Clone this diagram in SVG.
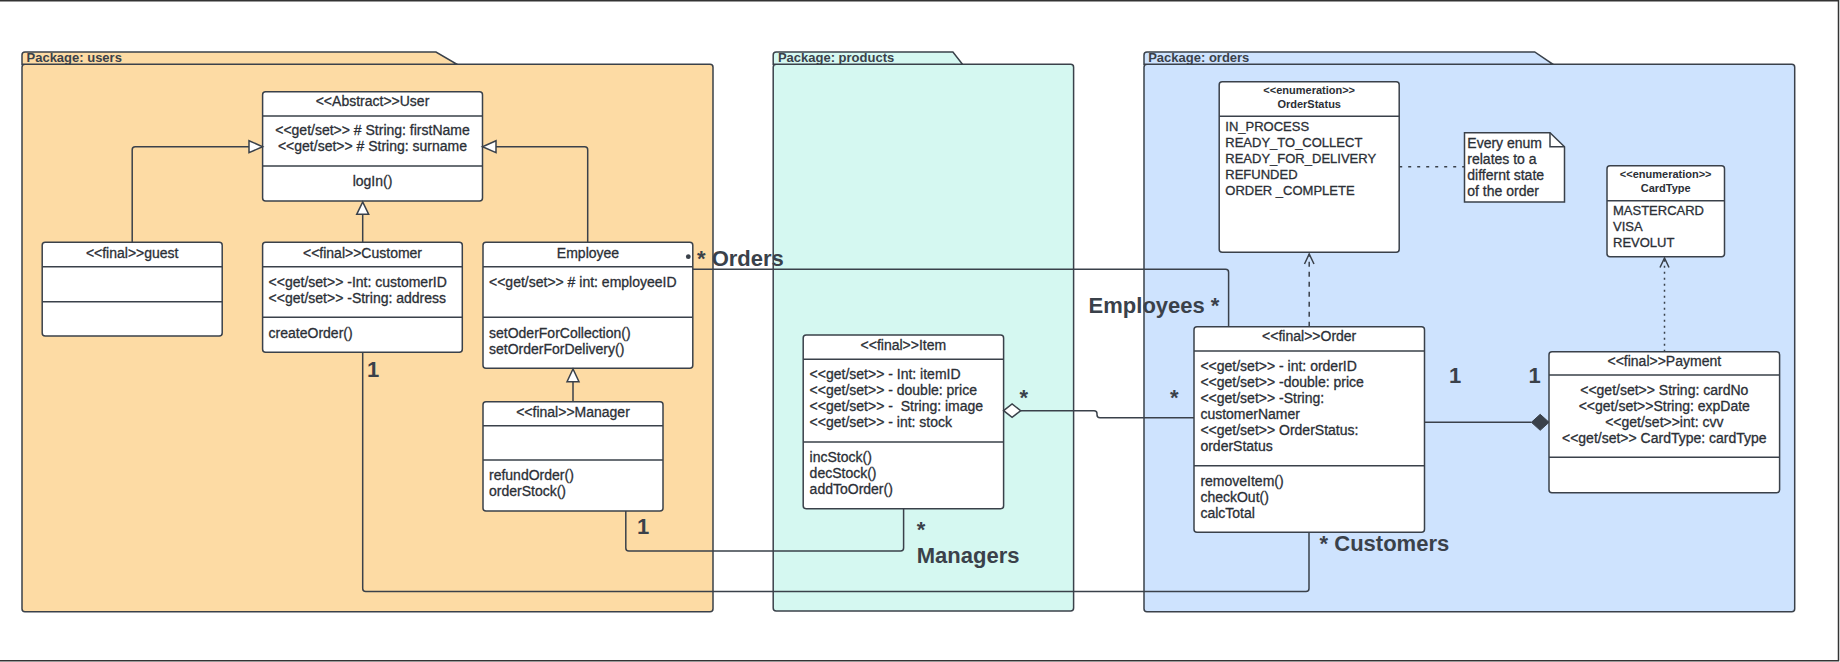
<svg xmlns="http://www.w3.org/2000/svg" width="1840" height="662" viewBox="0 0 1840 662">
<style>
.pk{stroke:#3a414a;stroke-width:1.5}
.bx{fill:#fff;stroke:#3a414a;stroke-width:1.5}
.ln{stroke:#3a414a;stroke-width:1.5;fill:none}
text{font-family:"Liberation Sans",Arial,sans-serif;font-size:14px;fill:#2b2f36;stroke:#2b2f36;stroke-width:0.3}
.c{text-anchor:middle}
.pl{font-size:13px;font-weight:bold;fill:#3a414a;stroke:none}
.big{font-size:22px;font-weight:bold;fill:#3a414a;stroke:none}
.eh{font-size:11px;font-weight:bold;stroke:none}
.ev{font-size:13px}
.tri{fill:#fff;stroke:#3a414a;stroke-width:1.5}
</style>
<rect width="1840" height="662" fill="#fff"/>
<path d="M0,0.75 H1838.5 V660.8 H0" fill="none" stroke="#333" stroke-width="1.5"/>

<g id="pkg-users">
<rect class="pk" x="22" y="64.3" width="691" height="547.4" rx="3" fill="#fddba4"/>
<path class="pk" d="M22,64.3 V55 Q22,52 25,52 H436 L457,64.3 Z" fill="#fddba4"/>
<text class="pl" x="26.5" y="62">Package: users</text>
</g>
<g id="pkg-products">
<rect class="pk" x="773.2" y="64.3" width="300.4" height="546.7" rx="3" fill="#d5f8f1"/>
<path class="pk" d="M773.2,64.3 V55 Q773.2,52 776.2,52 H952.9 L962.5,64.3 Z" fill="#d5f8f1"/>
<text class="pl" x="777.9" y="62">Package: products</text>
</g>
<g id="pkg-orders">
<rect class="pk" x="1144" y="64.3" width="650.7" height="547.4" rx="3" fill="#cee3fe"/>
<path class="pk" d="M1144,64.3 V55 Q1144,52 1147,52 H1534.7 L1553,64.3 Z" fill="#cee3fe"/>
<text class="pl" x="1148.2" y="62">Package: orders</text>
</g>

<g id="User">
<rect class="bx" x="262.6" y="91.7" width="219.9" height="109.3" rx="3"/>
<path class="ln" d="M262.6,116 H482.5 M262.6,166 H482.5"/>
<text class="c" x="372.5" y="106">&lt;&lt;Abstract&gt;&gt;User</text>
<text class="c" x="372.5" y="135">&lt;&lt;get/set&gt;&gt; # String: firstName</text>
<text class="c" x="372.5" y="151">&lt;&lt;get/set&gt;&gt; # String: surname</text>
<text class="c" x="372.5" y="186">logIn()</text>
</g>
<g id="guest">
<rect class="bx" x="42.2" y="242.3" width="180" height="93.7" rx="3"/>
<path class="ln" d="M42.2,266.7 H222.2 M42.2,301.7 H222.2"/>
<text class="c" x="132.2" y="257.5">&lt;&lt;final&gt;&gt;guest</text>
</g>
<g id="Customer">
<rect class="bx" x="262.6" y="242.3" width="199.7" height="110" rx="3"/>
<path class="ln" d="M262.6,266.7 H462.3 M262.6,317.3 H462.3"/>
<text class="c" x="362.5" y="257.5">&lt;&lt;final&gt;&gt;Customer</text>
<text x="268.6" y="287">&lt;&lt;get/set&gt;&gt; -Int: customerID</text>
<text x="268.6" y="303">&lt;&lt;get/set&gt;&gt; -String: address</text>
<text x="268.6" y="338">createOrder()</text>
</g>
<g id="Employee">
<rect class="bx" x="483" y="242.3" width="209.8" height="126" rx="3"/>
<path class="ln" d="M483,266.7 H692.8 M483,317.3 H692.8"/>
<text class="c" x="588" y="257.5">Employee</text>
<text x="489" y="287">&lt;&lt;get/set&gt;&gt; # int: employeeID</text>
<text x="489" y="338">setOderForCollection()</text>
<text x="489" y="354">setOrderForDelivery()</text>
</g>
<g id="Manager">
<rect class="bx" x="483" y="401.7" width="180" height="109.3" rx="3"/>
<path class="ln" d="M483,425.7 H663 M483,460 H663"/>
<text class="c" x="573" y="416.5">&lt;&lt;final&gt;&gt;Manager</text>
<text x="489" y="480">refundOrder()</text>
<text x="489" y="496">orderStock()</text>
</g>
<g id="Item">
<rect class="bx" x="803.2" y="335" width="200.4" height="173.7" rx="3"/>
<path class="ln" d="M803.2,359.3 H1003.6 M803.2,442 H1003.6"/>
<text class="c" x="903.4" y="349.5">&lt;&lt;final&gt;&gt;Item</text>
<text x="809.6" y="379">&lt;&lt;get/set&gt;&gt; - Int: itemID</text>
<text x="809.6" y="395">&lt;&lt;get/set&gt;&gt; - double: price</text>
<text x="809.6" y="411" xml:space="preserve">&lt;&lt;get/set&gt;&gt; -  String: image</text>
<text x="809.6" y="427">&lt;&lt;get/set&gt;&gt; - int: stock</text>
<text x="809.6" y="462">incStock()</text>
<text x="809.6" y="478">decStock()</text>
<text x="809.6" y="494">addToOrder()</text>
</g>
<g id="Order">
<rect class="bx" x="1194" y="326.7" width="230.5" height="205.6" rx="3"/>
<path class="ln" d="M1194,351 H1424.5 M1194,465.7 H1424.5"/>
<text class="c" x="1309.2" y="341">&lt;&lt;final&gt;&gt;Order</text>
<text x="1200.4" y="371">&lt;&lt;get/set&gt;&gt; - int: orderID</text>
<text x="1200.4" y="387">&lt;&lt;get/set&gt;&gt; -double: price</text>
<text x="1200.4" y="403">&lt;&lt;get/set&gt;&gt; -String:</text>
<text x="1200.4" y="419">customerNamer</text>
<text x="1200.4" y="435">&lt;&lt;get/set&gt;&gt; OrderStatus:</text>
<text x="1200.4" y="451">orderStatus</text>
<text x="1200.4" y="486">removeItem()</text>
<text x="1200.4" y="502">checkOut()</text>
<text x="1200.4" y="518">calcTotal</text>
</g>
<g id="OrderStatus">
<rect class="bx" x="1219.2" y="81.7" width="180" height="170.6" rx="3"/>
<path class="ln" d="M1219.2,116.3 H1399.2"/>
<text class="c eh" x="1309.2" y="94">&lt;&lt;enumeration&gt;&gt;</text>
<text class="c eh" x="1309.2" y="107.5">OrderStatus</text>
<text class="ev" x="1225.3" y="131">IN_PROCESS</text>
<text class="ev" x="1225.3" y="147">READY_TO_COLLECT</text>
<text class="ev" x="1225.3" y="163">READY_FOR_DELIVERY</text>
<text class="ev" x="1225.3" y="179">REFUNDED</text>
<text class="ev" x="1225.3" y="195">ORDER _COMPLETE</text>
</g>
<g id="Note">
<path class="bx" d="M1464.5,132.7 H1550 L1564.5,146.7 V202 H1464.5 Z"/>
<path class="ln" d="M1550,132.7 V146.7 H1564.5"/>
<text x="1467.3" y="147.5">Every enum</text>
<text x="1467.3" y="163.5">relates to a</text>
<text x="1467.3" y="179.5">differnt state</text>
<text x="1467.3" y="195.5">of the order</text>
</g>
<g id="CardType">
<rect class="bx" x="1607" y="165.7" width="117.5" height="91" rx="3"/>
<path class="ln" d="M1607,200.7 H1724.5"/>
<text class="c eh" x="1665.7" y="178">&lt;&lt;enumeration&gt;&gt;</text>
<text class="c eh" x="1665.7" y="191.5">CardType</text>
<text class="ev" x="1613" y="215">MASTERCARD</text>
<text class="ev" x="1613" y="231">VISA</text>
<text class="ev" x="1613" y="247">REVOLUT</text>
</g>
<g id="Payment">
<rect class="bx" x="1549" y="351.7" width="230.6" height="141" rx="3"/>
<path class="ln" d="M1549,375 H1779.6 M1549,457.3 H1779.6"/>
<text class="c" x="1664.3" y="365.5">&lt;&lt;final&gt;&gt;Payment</text>
<text class="c" x="1664.3" y="394.5">&lt;&lt;get/set&gt;&gt; String: cardNo</text>
<text class="c" x="1664.3" y="410.5">&lt;&lt;get/set&gt;&gt;String: expDate</text>
<text class="c" x="1664.3" y="426.5">&lt;&lt;get/set&gt;&gt;int: cvv</text>
<text class="c" x="1664.3" y="442.5">&lt;&lt;get/set&gt;&gt; CardType: cardType</text>
</g>

<g id="connectors">
<path class="ln" d="M132.2,242.3 V149.7 Q132.2,146.7 135.2,146.7 H249"/>
<polygon class="tri" points="249,140.7 262.6,146.7 249,152.7"/>
<path class="ln" d="M587.7,242.3 V149.7 Q587.7,146.7 584.7,146.7 H496"/>
<polygon class="tri" points="496,140.7 482.5,146.7 496,152.7"/>
<path class="ln" d="M362.7,242.3 V214.3"/>
<polygon class="tri" points="356.7,214.3 362.7,202 368.7,214.3"/>
<path class="ln" d="M573,401.7 V381.7"/>
<polygon class="tri" points="567,381.7 573,369 579,381.7"/>
<path class="ln" d="M692.8,269.3 H1225.6 Q1228.6,269.3 1228.6,272.3 V326.7"/>
<circle cx="688.3" cy="256.7" r="2.4" fill="#3a414a"/>
<path class="ln" d="M362.7,352.3 V588.5 Q362.7,591.5 365.7,591.5 H1306 Q1309,591.5 1309,588.5 V532.3"/>
<path class="ln" d="M625.8,511 V548 Q625.8,551 628.8,551 H900.6 Q903.6,551 903.6,548 V508.7"/>
<path class="ln" d="M1020.7,410.7 H1094 Q1097,410.7 1097,413.7 V414.7 Q1097,417.7 1100,417.7 H1194"/>
<polygon class="tri" points="1003.6,410.7 1012.1,404 1020.7,410.7 1012.1,417.4"/>
<path class="ln" d="M1424.5,422.3 H1531.4"/>
<polygon points="1531.4,422.3 1540.2,414.3 1549,422.3 1540.2,430.3" fill="#3a414a" stroke="#3a414a" stroke-width="1"/>
<path class="ln" d="M1309.2,326.7 V254" stroke-dasharray="5,5"/>
<polyline class="ln" points="1304.5,264 1309.2,254 1314,264"/>
<path class="ln" d="M1664.5,351.7 V259" stroke-dasharray="2,4"/>
<polyline class="ln" points="1660,267.5 1664.5,258 1669,267.5"/>
<path class="ln" d="M1399.2,166.7 H1464.5" stroke-dasharray="3,6"/>
<text class="big" x="367" y="376.7">1</text>
<text class="big" x="637" y="534">1</text>
<text class="big" x="916.8" y="536.7">*</text>
<text class="big" x="916.8" y="563.3">Managers</text>
<text class="big" x="697" y="265.7">* Orders</text>
<text class="big" x="1088.6" y="313.3">Employees *</text>
<text class="big" x="1019.6" y="404.7">*</text>
<text class="big" x="1170" y="404.7">*</text>
<text class="big" x="1449" y="383.3">1</text>
<text class="big" x="1528.6" y="383.3">1</text>
<text class="big" x="1319.6" y="550.7">* Customers</text>
</g>
</svg>
